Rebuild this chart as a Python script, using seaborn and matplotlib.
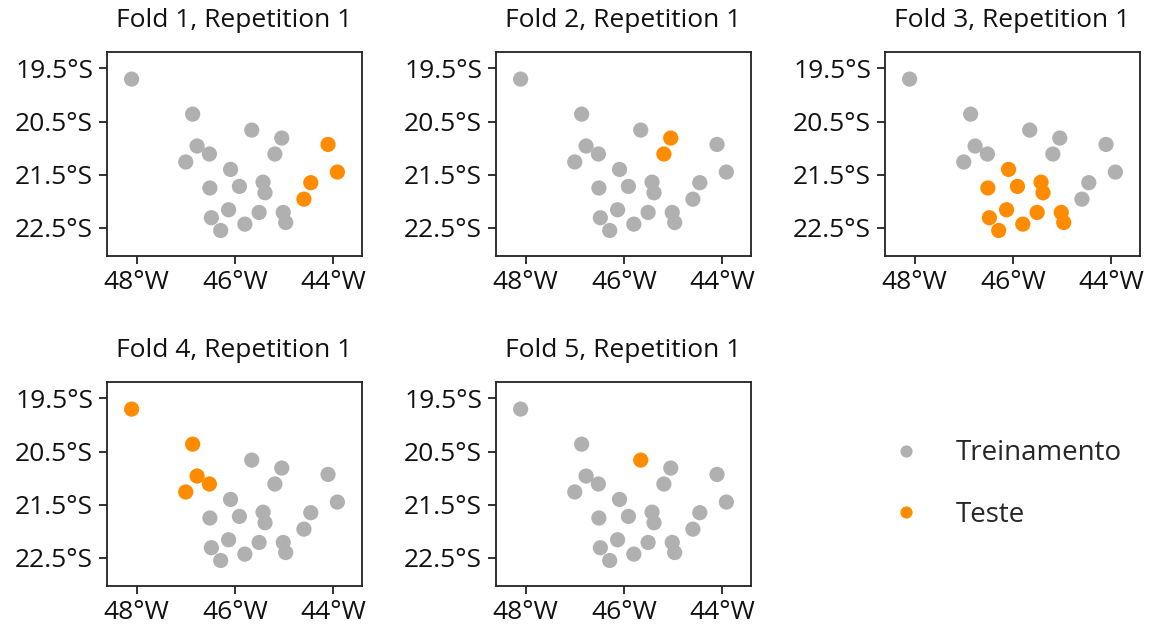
import matplotlib
matplotlib.use("Agg")
import matplotlib.pyplot as plt
import seaborn as sns
import pandas as pd
import numpy as np

# Station coordinates (degrees)
lon = [-48.10, -46.86, -45.66, -45.05, -44.11, -46.77, -46.52, -45.19,
       -47.00, -46.09, -43.92, -44.46, -45.43, -46.51, -45.91, -45.39,
       -44.60, -46.13, -45.51, -45.02, -46.48, -44.97, -45.80, -46.29]
lat = [-19.70, -20.36, -20.66, -20.81, -20.93, -20.96, -21.11, -21.11,
       -21.26, -21.40, -21.45, -21.65, -21.64, -21.75, -21.72, -21.84,
       -21.96, -22.16, -22.21, -22.21, -22.31, -22.40, -22.43, -22.55]
# Fold in which each station is used as test
fold = [4, 4, 5, 2, 1, 4, 4, 2,
        4, 3, 1, 1, 3, 3, 3, 3,
        1, 3, 3, 3, 3, 3, 3, 3]

n_folds = 5
titles = [f"Fold {k}, Repetition 1" for k in range(1, n_folds + 1)]
xticks = [-48, -46, -44]
xticklabels = ["48°W", "46°W", "44°W"]
yticks = [-19.5, -20.5, -21.5, -22.5]
yticklabels = ["19.5°S", "20.5°S", "21.5°S", "22.5°S"]
labels = ["Treinamento", "Teste"]
palette = {"Treinamento": "#b0b0b0", "Teste": "#ff8c00"}

sns.set_theme(style="ticks")
plt.rcParams["font.family"] = ["Open Sans", "DejaVu Sans"]

fig = plt.figure(figsize=(11.54, 6.30), dpi=100)
W, H = 1154, 630
lefts = [107, 496, 885]
tops = [52, 382]
aw, ah = 255, 204

df = pd.DataFrame({"lon": lon, "lat": lat, "fold": fold})
handles = None
for k in range(1, n_folds + 1):
    r, c = divmod(k - 1, 3)
    ax = fig.add_axes([lefts[c] / W, (H - tops[r] - ah) / H, aw / W, ah / H])
    d = df.copy()
    d["set"] = np.where(d["fold"] == k, "Teste", "Treinamento")
    sns.scatterplot(data=d, x="lon", y="lat", hue="set", hue_order=labels,
                    palette=palette, s=120, linewidth=0, ax=ax, legend=True)
    if handles is None:
        handles, _ = ax.get_legend_handles_labels()
    ax.get_legend().remove()
    ax.set_xlim(-48.60, -43.42)
    ax.set_ylim(-23.03, -19.19)
    ax.set_xticks(xticks)
    ax.set_xticklabels(xticklabels)
    ax.set_yticks(yticks)
    ax.set_yticklabels(yticklabels)
    ax.set_xlabel("")
    ax.set_ylabel("")
    ax.tick_params(labelsize=19, length=6, width=1.3, pad=4,
                   color="#222222", labelcolor="#111111")
    for sp in ax.spines.values():
        sp.set_visible(True)
        sp.set_linewidth(1.3)
        sp.set_color("#222222")
    ax.set_title(titles[k - 1], fontsize=19, pad=18, color="#111111")

fig.legend(handles, labels, loc="center left", bbox_to_anchor=(881 / W, (H - 484) / H),
           frameon=False, fontsize=20, markerscale=0.8, handlelength=1.0,
           handletextpad=1.3, labelspacing=1.2, borderaxespad=0)
fig.savefig("out.png", dpi=100)
